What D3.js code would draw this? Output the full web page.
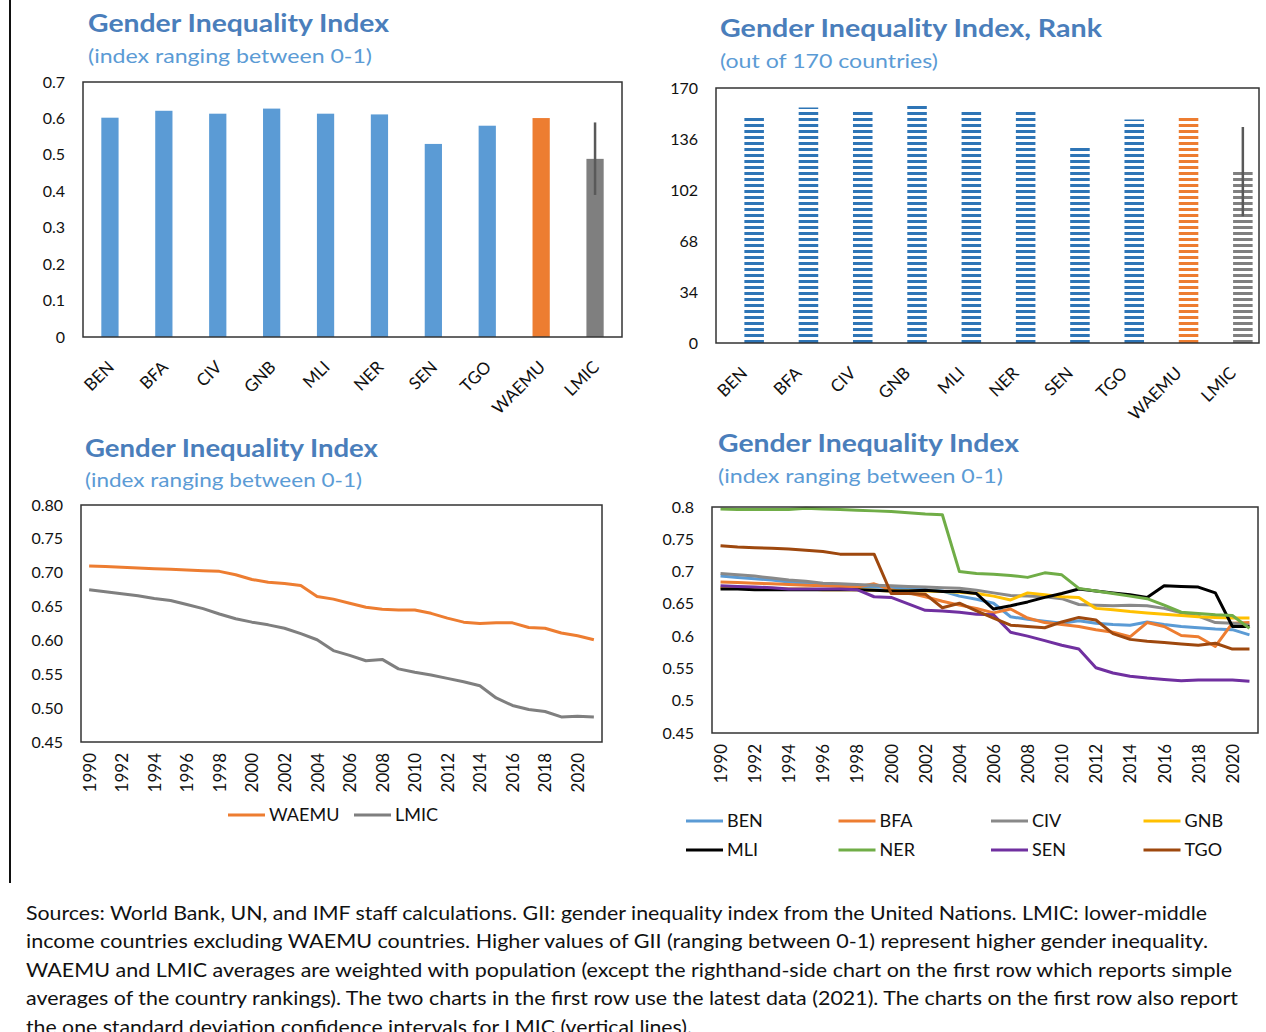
<!DOCTYPE html>
<html>
<head>
<meta charset="utf-8">
<script src="https://cdn.jsdelivr.net/npm/d3@7"></script>
<style>
body { margin: 0; background: #fff; }
svg { display: block; font-family: Lato, "Open Sans", sans-serif; }
</style>
</head>
<body>
<svg width="1266" height="1032"></svg>
<script>
////// Data
var countries = ["BEN", "BFA", "CIV", "GNB", "MLI", "NER", "SEN", "TGO", "WAEMU", "LMIC"];
var gii2021 = [0.602, 0.621, 0.613, 0.627, 0.613, 0.611, 0.530, 0.580, 0.601, 0.489];
var giiLmicBand = [0.390, 0.589];
var rank2021 = [151, 157, 155, 159, 155, 154, 131, 149, 151.4, 114];
var rankLmicBand = [84.5, 144];

var years = [1990, 1991, 1992, 1993, 1994, 1995, 1996, 1997, 1998, 1999, 2000, 2001, 2002, 2003, 2004, 2005,
             2006, 2007, 2008, 2009, 2010, 2011, 2012, 2013, 2014, 2015, 2016, 2017, 2018, 2019, 2020, 2021];
var yearTicks = [1990, 1992, 1994, 1996, 1998, 2000, 2002, 2004, 2006, 2008, 2010, 2012, 2014, 2016, 2018, 2020];

var waemu = [0.710, 0.709, 0.708, 0.707, 0.706, 0.705, 0.704, 0.703, 0.702, 0.697, 0.690, 0.686, 0.684, 0.681, 0.665, 0.661,
             0.655, 0.649, 0.646, 0.645, 0.645, 0.640, 0.633, 0.627, 0.625, 0.626, 0.626, 0.619, 0.618, 0.611, 0.607, 0.601];
var lmic  = [0.675, 0.672, 0.669, 0.666, 0.662, 0.659, 0.653, 0.647, 0.639, 0.632, 0.627, 0.623, 0.618, 0.610, 0.601, 0.585,
             0.578, 0.570, 0.572, 0.558, 0.553, 0.549, 0.544, 0.539, 0.533, 0.515, 0.504, 0.498, 0.495, 0.487, 0.488, 0.487];

var ben = [0.693, 0.691, 0.689, 0.687, 0.684, 0.682, 0.679, 0.678, 0.677, 0.676, 0.675, 0.673, 0.672, 0.670, 0.662, 0.657,
           0.651, 0.630, 0.626, 0.623, 0.620, 0.624, 0.620, 0.618, 0.617, 0.622, 0.618, 0.615, 0.613, 0.611, 0.610, 0.602];
var bfa = [0.684, 0.683, 0.682, 0.681, 0.680, 0.679, 0.678, 0.677, 0.676, 0.681, 0.672, 0.667, 0.661, 0.654, 0.648, 0.643,
           0.636, 0.642, 0.628, 0.621, 0.618, 0.615, 0.610, 0.606, 0.599, 0.621, 0.615, 0.601, 0.599, 0.584, 0.620, 0.621];
var civ = [0.697, 0.695, 0.693, 0.690, 0.687, 0.685, 0.682, 0.681, 0.680, 0.679, 0.678, 0.677, 0.676, 0.675, 0.674, 0.671,
           0.667, 0.663, 0.662, 0.661, 0.658, 0.649, 0.648, 0.647, 0.648, 0.647, 0.643, 0.636, 0.631, 0.621, 0.620, 0.617];
var gnb = [0.675, 0.675, 0.674, 0.674, 0.673, 0.673, 0.672, 0.672, 0.672, 0.671, 0.670, 0.670, 0.670, 0.669, 0.668, 0.666,
           0.662, 0.656, 0.667, 0.664, 0.661, 0.660, 0.643, 0.641, 0.638, 0.636, 0.634, 0.632, 0.630, 0.629, 0.628, 0.628];
var mli = [0.673, 0.673, 0.672, 0.672, 0.672, 0.672, 0.672, 0.672, 0.672, 0.671, 0.670, 0.670, 0.671, 0.669, 0.669, 0.666,
           0.642, 0.647, 0.653, 0.660, 0.666, 0.673, 0.670, 0.667, 0.664, 0.660, 0.678, 0.677, 0.676, 0.667, 0.615, 0.615];
var ner = [0.797, 0.796, 0.796, 0.796, 0.796, 0.798, 0.797, 0.796, 0.795, 0.794, 0.793, 0.791, 0.789, 0.788, 0.700, 0.697,
           0.696, 0.694, 0.691, 0.698, 0.695, 0.674, 0.670, 0.666, 0.662, 0.658, 0.648, 0.637, 0.635, 0.633, 0.632, 0.612];
var sen = [0.678, 0.677, 0.676, 0.675, 0.673, 0.673, 0.673, 0.673, 0.672, 0.661, 0.660, 0.650, 0.640, 0.639, 0.637, 0.634,
           0.633, 0.606, 0.600, 0.593, 0.586, 0.580, 0.551, 0.543, 0.538, 0.535, 0.533, 0.531, 0.532, 0.532, 0.532, 0.530];
var tgo = [0.740, 0.738, 0.737, 0.736, 0.735, 0.733, 0.731, 0.727, 0.727, 0.727, 0.666, 0.666, 0.665, 0.644, 0.651, 0.639,
           0.628, 0.617, 0.615, 0.613, 0.622, 0.629, 0.625, 0.604, 0.595, 0.592, 0.590, 0.588, 0.586, 0.589, 0.580, 0.580];

var giiTicks = [0, 0.1, 0.2, 0.3, 0.4, 0.5, 0.6, 0.7];
var rankTicks = [0, 34, 68, 102, 136, 170];
var avgTicks = [0.45, 0.50, 0.55, 0.60, 0.65, 0.70, 0.75, 0.80];
var ctyTicks = [0.45, 0.5, 0.55, 0.6, 0.65, 0.7, 0.75, 0.8];

var footnote = [
  "Sources: World Bank, UN, and IMF staff calculations. GII: gender inequality index from the United Nations. LMIC: lower-middle",
  "income countries excluding WAEMU countries. Higher values of GII (ranging between 0-1) represent higher gender inequality.",
  "WAEMU and LMIC averages are weighted with population (except the righthand-side chart on the first row which reports simple",
  "averages of the country rankings). The two charts in the first row use the latest data (2021). The charts on the first row also report",
  "the one standard deviation confidence intervals for LMIC (vertical lines)."
];

////// SVG
var svg = d3.select("svg");
var defs = svg.append("defs");
var titleBlue = "#4A7EBB", subBlue = "#5B9BD5";

// left border of the figure box
svg.append("line").attr("x1", 10).attr("x2", 10).attr("y1", 0).attr("y2", 883)
    .attr("stroke", "#111").attr("stroke-width", 2);

function titles(x, y1, t1, w1, y2, t2, w2) {
    svg.append("text").attr("x", x).attr("y", y1).text(t1)
        .style("font-size", "25px").style("font-weight", "700").style("fill", titleBlue)
        .attr("textLength", w1).attr("lengthAdjust", "spacingAndGlyphs");
    svg.append("text").attr("x", x).attr("y", y2).text(t2)
        .style("font-size", "20px").style("fill", subBlue)
        .attr("textLength", w2).attr("lengthAdjust", "spacingAndGlyphs");
}

function yAxis(y, ticks, fmt, left) {
    var g = svg.append("g").attr("transform", "translate(" + left + ",0)")
        .call(d3.axisLeft(y).tickValues(ticks).tickSize(0).tickPadding(18).tickFormat(fmt));
    g.select(".domain").remove();
    g.selectAll("text").style("font-size", "16px").style("font-family", "Lato, sans-serif").attr("fill", "#111");
}

function frame(x0, x1, y0, y1) {
    svg.append("rect").attr("x", x0).attr("y", y0).attr("width", x1 - x0).attr("height", y1 - y0)
        .attr("fill", "none").attr("stroke", "#333").attr("stroke-width", 1.5);
}

function catAxis(x, bottom) {
    var g = svg.append("g").attr("transform", "translate(0," + bottom + ")")
        .call(d3.axisBottom(x).tickSize(0));
    g.select(".domain").remove();
    g.selectAll("text")
        .attr("x", 0).attr("y", 0).attr("dy", "0.35em")
        .attr("text-anchor", "end")
        .attr("transform", "translate(1,27) rotate(-45)")
        .style("font-size", "17px").style("font-family", "Lato, sans-serif").attr("fill", "#111");
}

function yearAxis(x, bottom) {
    var g = svg.append("g").attr("transform", "translate(0," + bottom + ")")
        .call(d3.axisBottom(x).tickValues(yearTicks).tickSize(0));
    g.select(".domain").remove();
    g.selectAll("text")
        .attr("x", 0).attr("y", 0).attr("dy", "0.35em")
        .attr("text-anchor", "end")
        .attr("transform", "translate(0,11) rotate(-90)")
        .style("font-size", "17px").style("font-family", "Lato, sans-serif").attr("fill", "#111");
}

function barColor(c, blue) {
    if (c == "WAEMU") return "#ED7D31";
    if (c == "LMIC") return "#7F7F7F";
    return blue;
}

//////////////// Chart 1 : GII 2021
titles(88, 32, "Gender Inequality Index", 301, 63, "(index ranging between 0-1)", 284);

var x1 = d3.scaleBand().domain(countries).range([83, 622]).paddingInner(0.68).paddingOuter(0.34),
    y1 = d3.scaleLinear().domain([0, 0.7]).range([337, 82]);

svg.append("g").selectAll("rect").data(countries).enter().append("rect")
    .attr("x", function (d) { return x1(d); })
    .attr("width", x1.bandwidth())
    .attr("y", function (d, i) { return y1(gii2021[i]); })
    .attr("height", function (d, i) { return y1(0) - y1(gii2021[i]); })
    .attr("fill", function (d) { return barColor(d, "#5B9BD5"); });

svg.append("line")
    .attr("x1", x1("LMIC") + x1.bandwidth() / 2).attr("x2", x1("LMIC") + x1.bandwidth() / 2)
    .attr("y1", y1(giiLmicBand[0])).attr("y2", y1(giiLmicBand[1]))
    .attr("stroke", "#595959").attr("stroke-width", 2.5);

frame(83, 622, 82, 337);
yAxis(y1, giiTicks, function (d) { return String(d); }, 83);
catAxis(x1, 337);

//////////////// Chart 2 : GII rank
titles(720, 37, "Gender Inequality Index, Rank", 382, 68, "(out of 170 countries)", 218);

var x2 = d3.scaleBand().domain(countries).range([716, 1259]).paddingInner(0.64).paddingOuter(0.32),
    y2 = d3.scaleLinear().domain([0, 170]).range([343, 88]);

[["stripeBlue", "#2E75B6"], ["stripeOrange", "#ED7D31"], ["stripeGray", "#7F7F7F"]].forEach(function (p) {
    var pat = defs.append("pattern").attr("id", p[0]).attr("patternUnits", "userSpaceOnUse")
        .attr("x", 0).attr("y", 343).attr("width", 1266).attr("height", 6);
    pat.append("rect").attr("x", 0).attr("y", 3).attr("width", 1266).attr("height", 3).attr("fill", p[1]);
});

svg.append("g").selectAll("rect").data(countries).enter().append("rect")
    .attr("x", function (d) { return x2(d) + 11; })
    .attr("width", x2.bandwidth())
    .attr("y", function (d, i) { return y2(rank2021[i]); })
    .attr("height", function (d, i) { return y2(0) - y2(rank2021[i]); })
    .attr("fill", function (d) {
        return d == "WAEMU" ? "url(#stripeOrange)" : d == "LMIC" ? "url(#stripeGray)" : "url(#stripeBlue)";
    });

svg.append("line")
    .attr("x1", x2("LMIC") + 11 + x2.bandwidth() / 2).attr("x2", x2("LMIC") + 11 + x2.bandwidth() / 2)
    .attr("y1", y2(rankLmicBand[0])).attr("y2", y2(rankLmicBand[1]))
    .attr("stroke", "#595959").attr("stroke-width", 2.5);

frame(716, 1259, 88, 343);
yAxis(y2, rankTicks, function (d) { return String(d); }, 716);
catAxis(x2, 343);

//////////////// Chart 3 : WAEMU vs LMIC over time
titles(85, 457, "Gender Inequality Index", 293, 487, "(index ranging between 0-1)", 277);

var x3 = d3.scalePoint().domain(years).range([81, 602]).padding(0.5),
    y3 = d3.scaleLinear().domain([0.45, 0.80]).range([742, 505]);

var avgSeries = [
    { name: "WAEMU", color: "#ED7D31", values: waemu },
    { name: "LMIC", color: "#7F7F7F", values: lmic }
];

var line3 = d3.line()
    .x(function (d, i) { return x3(years[i]); })
    .y(function (d) { return y3(d); });

avgSeries.forEach(function (s) {
    svg.append("path").datum(s.values)
        .attr("fill", "none").attr("stroke", s.color).attr("stroke-width", 3)
        .attr("stroke-linejoin", "round").attr("d", line3);
});

frame(81, 602, 505, 742);
yAxis(y3, avgTicks, d3.format(".2f"), 81);
yearAxis(x3, 742);

// legend
var leg3 = [228, 354];
avgSeries.forEach(function (s, i) {
    svg.append("line").attr("x1", leg3[i]).attr("x2", leg3[i] + 37).attr("y1", 815).attr("y2", 815)
        .attr("stroke", s.color).attr("stroke-width", 3);
    svg.append("text").attr("x", leg3[i] + 41).attr("y", 815).attr("dy", "0.35em").text(s.name)
        .style("font-size", "18px").attr("fill", "#111");
});

//////////////// Chart 4 : countries over time
titles(718, 452, "Gender Inequality Index", 301, 483, "(index ranging between 0-1)", 285);

var x4 = d3.scalePoint().domain(years).range([712, 1258]).padding(0.5),
    y4 = d3.scaleLinear().domain([0.45, 0.8]).range([733, 507]);

var ctySeries = [
    { name: "BEN", color: "#5B9BD5", values: ben },
    { name: "BFA", color: "#ED7D31", values: bfa },
    { name: "CIV", color: "#898989", values: civ },
    { name: "GNB", color: "#FFC000", values: gnb },
    { name: "MLI", color: "#000000", values: mli },
    { name: "NER", color: "#70AD47", values: ner },
    { name: "SEN", color: "#7030A0", values: sen },
    { name: "TGO", color: "#9E480E", values: tgo }
];

var line4 = d3.line()
    .x(function (d, i) { return x4(years[i]); })
    .y(function (d) { return y4(d); });

ctySeries.forEach(function (s) {
    svg.append("path").datum(s.values)
        .attr("fill", "none").attr("stroke", s.color).attr("stroke-width", 3)
        .attr("stroke-linejoin", "round").attr("d", line4);
});

frame(712, 1258, 507, 733);
yAxis(y4, ctyTicks, function (d) { return String(d); }, 712);
yearAxis(x4, 733);

// legend, 4 columns x 2 rows
ctySeries.forEach(function (s, i) {
    var lx = 686 + (i % 4) * 152.5, ly = 821 + Math.floor(i / 4) * 29;
    svg.append("line").attr("x1", lx).attr("x2", lx + 37).attr("y1", ly).attr("y2", ly)
        .attr("stroke", s.color).attr("stroke-width", 3);
    svg.append("text").attr("x", lx + 41).attr("y", ly).attr("dy", "0.35em").text(s.name)
        .style("font-size", "18px").attr("fill", "#111");
});

//////////////// Footnote (last line is cut by the picture edge, as in the source)
var noteWidths = [1181, 1182, 1206, 1212, 666];
footnote.forEach(function (t, i) {
    svg.append("text").attr("x", 26).attr("y", 920 + i * 28.4).text(t)
        .style("font-size", "19px").attr("fill", "#111")
        .attr("textLength", noteWidths[i]).attr("lengthAdjust", "spacingAndGlyphs");
});
</script>
</body>
</html>
